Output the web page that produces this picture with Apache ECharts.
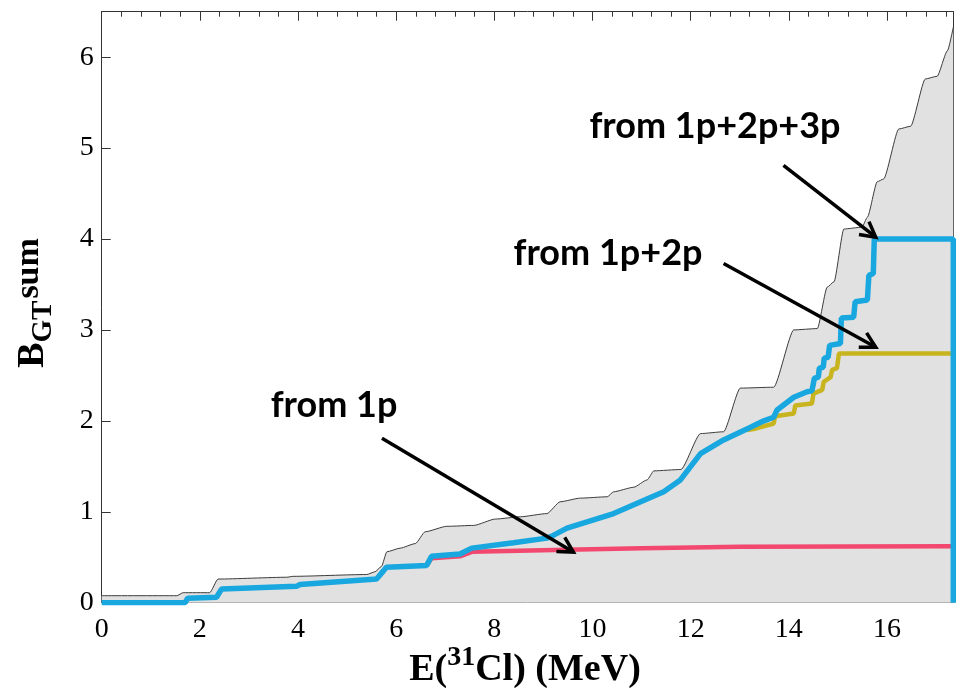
<!DOCTYPE html>
<html><head><meta charset="utf-8">
<script src="https://cdn.jsdelivr.net/npm/echarts@6/dist/echarts.min.js"></script>
<style>html,body{margin:0;padding:0;background:#fff}#c{width:974px;height:692px}</style>
</head><body><div id="c"></div>
<script>
// ---- data ----
const xTickLabels = ['0','2','4','6','8','10','12','14','16'];
const yTickLabels = ['0','1','2','3','4','5','6'];

// total B(GT) sum envelope (grey filled)
const envX = [0, 1.53, 1.66, 2.2, 2.37, 3.77, 3.9, 5.4, 5.57, 5.7, 5.81, 6.08, 6.39, 6.59, 7.03, 7.58, 8.02, 8.53, 9.07, 9.34, 9.75, 10.3, 10.43, 10.84, 11.11, 11.25, 11.8, 12.2, 12.67, 13.01, 13.69, 14.1, 14.58, 14.78, 14.92, 15.12, 15.49, 15.6, 15.8, 15.93, 16.24, 16.48, 16.78, 17.02, 17.23, 17.35];
const envY = [0.077, 0.077, 0.11, 0.11, 0.26, 0.28, 0.29, 0.31, 0.34, 0.40, 0.56, 0.60, 0.65, 0.78, 0.84, 0.85, 0.92, 0.945, 0.98, 1.11, 1.15, 1.165, 1.22, 1.27, 1.35, 1.45, 1.465, 1.86, 1.88, 2.36, 2.37, 3.0, 3.015, 3.47, 3.53, 4.11, 4.13, 4.24, 4.63, 4.66, 5.21, 5.24, 5.76, 5.79, 6.07, 6.33];

// from 1p+2p+3p (blue)
const blueX = [0, 1.70, 1.75, 2.34, 2.44, 3.97, 4.04, 5.6, 5.74, 5.8, 6.62, 6.72, 7.3, 7.54, 8.39, 9.07, 9.2, 9.48, 10.43, 11.45, 11.79, 12.2, 12.67, 13.22, 13.49, 13.69, 13.76, 14.1, 14.37, 14.47, 14.5, 14.52, 14.6, 14.62, 14.7, 14.72, 14.8, 14.83, 15.05, 15.07, 15.32, 15.35, 15.6, 15.63, 15.72, 15.74, 17.35, 17.35];
const blueY = [0, 0, 0.05, 0.06, 0.15, 0.18, 0.20, 0.26, 0.35, 0.39, 0.41, 0.51, 0.535, 0.60, 0.66, 0.71, 0.74, 0.82, 0.98, 1.22, 1.35, 1.64, 1.79, 1.93, 2.0, 2.04, 2.12, 2.26, 2.32, 2.33, 2.33, 2.47, 2.48, 2.58, 2.59, 2.69, 2.70, 2.83, 2.85, 3.13, 3.14, 3.31, 3.33, 3.60, 3.62, 4.0, 4.0, 0];

// from 1p+2p (yellow)
const yelX = [13.15, 13.28, 13.69, 13.72, 14.1, 14.13, 14.47, 14.5, 14.68, 14.71, 14.85, 14.88, 14.98, 15.02, 17.35];
const yelY = [1.90, 1.91, 1.97, 2.05, 2.08, 2.17, 2.19, 2.30, 2.34, 2.43, 2.48, 2.56, 2.58, 2.74, 2.74];

// from 1p (pink)
const pinkX = [6.62, 6.72, 7.3, 7.54, 9.21, 11.0, 13.0, 17.35];
const pinkY = [0.41, 0.49, 0.51, 0.56, 0.58, 0.60, 0.615, 0.62];

// annotation labels and arrows (data coordinates: [start, end])
const annText = ['from 1p+2p+3p', 'from 1p+2p', 'from 1p'];
const arrows = [
  [[13.89, 4.81], [15.77, 4.02]],
  [[12.67, 3.73], [15.77, 2.81]],
  [[5.71, 1.81], [9.61, 0.557]]
];

const zip = (a, b) => a.map((v, i) => [v, b[i]]);

const chart = echarts.init(document.getElementById('c'), null, {renderer: 'canvas'});
const AX = '#333';
const serif = '"Liberation Serif", "Times New Roman", serif';

function xAx(pos, labels) {
  return {
    type: 'value', min: 0, max: 17.35, interval: 2, position: pos,
    axisLine: {show: true, onZero: false, lineStyle: {color: AX, width: 1}},
    axisTick: {show: true, inside: true, length: 9, lineStyle: {color: AX, width: 1}},
    minorTick: {show: true, splitNumber: 5, length: 5, lineStyle: {color: AX, width: 1}},
    splitLine: {show: false},
    axisLabel: {show: labels, fontFamily: serif, fontSize: 28, color: '#000', margin: 13,
      showMaxLabel: false,
      formatter: v => { const i = xTickLabels.indexOf(String(v)); return i >= 0 ? xTickLabels[i] : ''; }}
  };
}
function yAx(pos, labels) {
  return {
    type: 'value', min: 0, max: 6.5, interval: 1, position: pos,
    axisLine: {show: true, onZero: false, lineStyle: {color: AX, width: 1}},
    axisTick: {show: true, inside: true, length: 9, lineStyle: {color: AX, width: 1}},
    splitLine: {show: false},
    axisLabel: {show: labels, fontFamily: serif, fontSize: 28, color: '#000', margin: 8,
      showMaxLabel: false,
      formatter: v => { const i = yTickLabels.indexOf(String(v)); return i >= 0 ? yTickLabels[i] : ''; }}
  };
}

chart.setOption({
  animation: false,
  backgroundColor: '#fff',
  grid: {left: 101.7, right: 20.7, top: 11.7, bottom: 89.3, containLabel: false},
  xAxis: [xAx('bottom', true), xAx('top', false)],
  yAxis: [yAx('left', true), yAx('right', false)],
  series: [
    {type: 'line', data: zip(envX, envY), showSymbol: false, z: 1, smooth: 0.2, smoothMonotone: 'x',
     lineStyle: {color: '#3c3c3c', width: 1}, areaStyle: {color: '#e1e1e1', opacity: 1}},
    {type: 'line', data: zip(pinkX, pinkY), showSymbol: false, z: 2,
     lineStyle: {color: '#f2486f', width: 4.5}},
    {type: 'line', data: zip(yelX, yelY), showSymbol: false, z: 3,
     lineStyle: {color: '#c8b41f', width: 4.5}},
    {type: 'line', data: zip(blueX, blueY), showSymbol: false, z: 4,
     lineStyle: {color: '#19a7df', width: 5.5}}
  ]
});

// ---- annotations & titles ----
const cv = document.createElement('canvas').getContext('2d');
function tw(t, f) { cv.font = f; return cv.measureText(t).width; }

const g = [];
// arrows
arrows.forEach(([a, b]) => {
  const p0 = chart.convertToPixel({gridIndex: 0}, a);
  const p1 = chart.convertToPixel({gridIndex: 0}, b);
  const dx = p1[0] - p0[0], dy = p1[1] - p0[1], L = Math.hypot(dx, dy);
  const ux = dx / L, uy = dy / L, H = 17, ang = 0.5;
  const rot = (x, y, t) => [x * Math.cos(t) - y * Math.sin(t), x * Math.sin(t) + y * Math.cos(t)];
  const r1 = rot(ux, uy, ang), r2 = rot(ux, uy, -ang);
  g.push({type: 'line', z: 100, shape: {x1: p0[0], y1: p0[1], x2: p1[0] - ux * 2, y2: p1[1] - uy * 2},
          style: {stroke: '#000', lineWidth: 3.5}});
  g.push({type: 'polyline', z: 100, shape: {points: [[p1[0] - H * r1[0], p1[1] - H * r1[1]], p1, [p1[0] - H * r2[0], p1[1] - H * r2[1]]]},
          style: {stroke: '#000', lineWidth: 3.5, fill: null, lineJoin: 'miter'}});
});
// labels
const annFont = 'bold 36px Lato, "Open Sans", sans-serif';
const annPos = [[715, 126], [608, 253], [334, 405]];
annText.forEach((t, i) => {
  g.push({type: 'text', z: 100, style: {text: t, x: annPos[i][0], y: annPos[i][1], font: annFont,
          fill: '#000', align: 'center', verticalAlign: 'middle'}});
});

// x-axis title: E(^31Cl) (MeV)
const fMain = 'bold 38px ' + serif, fSup = 'bold 28px ' + serif;
const xt = [['E(', fMain, 0], ['31', fSup, -12], ['Cl) (MeV)', fMain, 0]];
let W = xt.reduce((s, p) => s + tw(p[0], p[1]), 0);
let x0 = 525 - W / 2;
xt.forEach(p => {
  g.push({type: 'text', z: 100, style: {text: p[0], x: x0, y: 670 + p[2], font: p[1], fill: '#000',
          align: 'left', verticalAlign: 'middle'}});
  x0 += tw(p[0], p[1]);
});

// y-axis title: B_GT^sum (rotated)
const fB = 'bold 38px ' + serif, fGT = 'bold 29px ' + serif, fSum = 'bold 34px ' + serif;
const yt = [['B', fB, 0], ['GT', fGT, 11], ['sum', fSum, -4]];
const W2 = yt.reduce((s, p) => s + tw(p[0], p[1]), 0);
let lx = -W2 / 2;
const kids = [];
yt.forEach(p => {
  kids.push({type: 'text', style: {text: p[0], x: lx, y: p[2], font: p[1], fill: '#000',
             align: 'left', verticalAlign: 'middle'}});
  lx += tw(p[0], p[1]) + (p[0] === 'GT' ? 2 : 0);
});
g.push({type: 'group', x: 33, y: 304, rotation: Math.PI / 2, z: 100, children: kids});

chart.setOption({graphic: g});
</script>
</body></html>
